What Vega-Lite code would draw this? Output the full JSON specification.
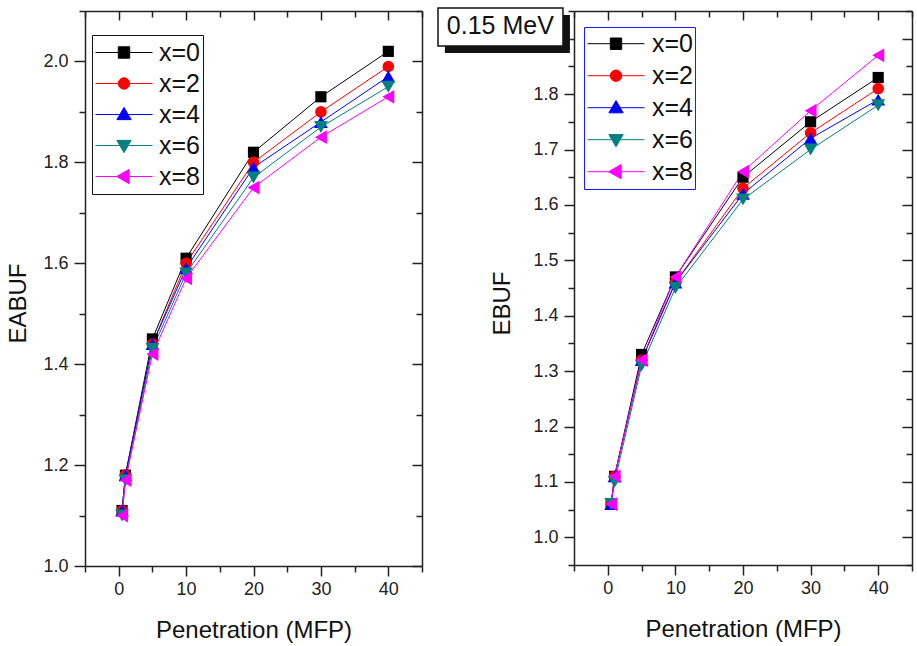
{
  "$schema": "https://vega.github.io/schema/vega-lite/v6.json",
  "background": "white",
  "padding": {"left": 6, "top": 7, "right": 4, "bottom": 2},
  "spacing": 14,
  "config": {
    "font": "Liberation Sans",
    "view": {"stroke": null},
    "axis": {
      "grid": false,
      "domainColor": "#222222",
      "domainWidth": 1.5,
      "tickColor": "#222222",
      "tickWidth": 1.5,
      "labelFont": "Liberation Sans",
      "labelFontSize": 18,
      "labelColor": "#222222",
      "labelFlush": false,
      "labelOverlap": false,
      "titleFont": "Liberation Sans",
      "titleFontSize": 24,
      "titleFontWeight": "normal",
      "titleColor": "#111111"
    }
  },
  "resolve": {
    "scale": {"color": "independent"},
    "legend": {"color": "independent"}
  },
  "hconcat": [
    {
      "width": 337,
      "height": 555,
      "data": {"values": [
        {"s": "x=0", "mfp": 0.5, "v": 1.11}, {"s": "x=0", "mfp": 1, "v": 1.18}, {"s": "x=0", "mfp": 5, "v": 1.45}, {"s": "x=0", "mfp": 10, "v": 1.61}, {"s": "x=0", "mfp": 20, "v": 1.82}, {"s": "x=0", "mfp": 30, "v": 1.93}, {"s": "x=0", "mfp": 40, "v": 2.02},
        {"s": "x=2", "mfp": 0.5, "v": 1.11}, {"s": "x=2", "mfp": 1, "v": 1.18}, {"s": "x=2", "mfp": 5, "v": 1.44}, {"s": "x=2", "mfp": 10, "v": 1.60}, {"s": "x=2", "mfp": 20, "v": 1.80}, {"s": "x=2", "mfp": 30, "v": 1.90}, {"s": "x=2", "mfp": 40, "v": 1.99},
        {"s": "x=4", "mfp": 0.5, "v": 1.11}, {"s": "x=4", "mfp": 1, "v": 1.18}, {"s": "x=4", "mfp": 5, "v": 1.44}, {"s": "x=4", "mfp": 10, "v": 1.59}, {"s": "x=4", "mfp": 20, "v": 1.79}, {"s": "x=4", "mfp": 30, "v": 1.88}, {"s": "x=4", "mfp": 40, "v": 1.97},
        {"s": "x=6", "mfp": 0.5, "v": 1.10}, {"s": "x=6", "mfp": 1, "v": 1.17}, {"s": "x=6", "mfp": 5, "v": 1.43}, {"s": "x=6", "mfp": 10, "v": 1.58}, {"s": "x=6", "mfp": 20, "v": 1.77}, {"s": "x=6", "mfp": 30, "v": 1.87}, {"s": "x=6", "mfp": 40, "v": 1.95},
        {"s": "x=8", "mfp": 0.5, "v": 1.10}, {"s": "x=8", "mfp": 1, "v": 1.17}, {"s": "x=8", "mfp": 5, "v": 1.42}, {"s": "x=8", "mfp": 10, "v": 1.57}, {"s": "x=8", "mfp": 20, "v": 1.75}, {"s": "x=8", "mfp": 30, "v": 1.85}, {"s": "x=8", "mfp": 40, "v": 1.93}
      ]},
      "resolve": {"axis": {"x": "independent", "y": "independent"}},
      "layer": [
        {
          "mark": {"type": "line", "strokeWidth": 1},
          "encoding": {
            "x": {"field": "mfp", "type": "quantitative", "scale": {"domain": [-5, 45], "nice": false, "zero": false},
                  "axis": {"orient": "bottom", "values": [0, 10, 20, 30, 40], "tickSize": 10, "labelPadding": 4, "title": "Penetration (MFP)", "titlePadding": 20}},
            "y": {"field": "v", "type": "quantitative", "scale": {"domain": [1.0, 2.1], "nice": false, "zero": false},
                  "axis": {"orient": "left", "values": [1.0, 1.2, 1.4, 1.6, 1.8, 2.0], "format": ".1f", "tickSize": 11, "labelPadding": 6, "title": "EABUF", "titlePadding": 12, "titleY": 292}},
            "color": {"field": "s", "type": "nominal",
                      "scale": {"domain": ["x=0", "x=2", "x=4", "x=6", "x=8"], "range": ["#000000", "#ff0000", "#0000ff", "#008080", "#ff00ff"]},
                      "legend": {"orient": "none", "legendX": 7, "legendY": 24, "title": null, "strokeColor": "#111111", "fillColor": "white", "padding": 2,
                                 "symbolSize": 3249, "clipHeight": 31, "rowPadding": 0, "symbolOffset": 1, "labelOffset": 6,
                                 "labelFont": "Liberation Sans", "labelFontSize": 25, "labelColor": "#111111",
                                 "encode": {
                                   "symbols": {"update": {
                                     "shape": {"signal": "datum.value === 'x=0' ? 'M-1,0H1M-0.2,-0.2H0.2V0.2H-0.2Z' : datum.value === 'x=2' ? 'M-1,0H1M-0.2,0A0.2,0.2,0,1,0,0.2,0A0.2,0.2,0,1,0,-0.2,0Z' : datum.value === 'x=4' ? 'M-1,0H1M0,-0.25L0.25,0.18L-0.25,0.18Z' : datum.value === 'x=6' ? 'M-1,0H1M0,0.25L0.25,-0.18L-0.25,-0.18Z' : 'M-1,0H1M-0.26,0L0.18,-0.25L0.18,0.25Z'"},
                                     "fill": {"signal": "datum.value === 'x=0' ? '#000000' : datum.value === 'x=2' ? '#ff0000' : datum.value === 'x=4' ? '#0000ff' : datum.value === 'x=6' ? '#008080' : '#ff00ff'"},
                                     "size": {"value": 3249},
                                     "strokeWidth": {"value": 1},
                                     "opacity": {"value": 1},
                                     "fillOpacity": {"value": 1},
                                     "strokeOpacity": {"value": 1}
                                   }}
                                 }}}
          }
        },
        {
          "transform": [{"filter": "datum.s === 'x=0'"}],
          "mark": {"type": "point", "filled": true, "opacity": 1, "shape": "square", "size": 125, "color": "#000000"},
          "encoding": {
            "x": {"field": "mfp", "type": "quantitative", "axis": {"orient": "top", "values": [0, 10, 20, 30, 40], "labels": false, "tickSize": -9, "title": null}},
            "y": {"field": "v", "type": "quantitative", "axis": {"orient": "right", "values": [1.0, 1.2, 1.4, 1.6, 1.8, 2.0], "labels": false, "tickSize": -10, "title": null}}
          }
        },
        {
          "transform": [{"filter": "datum.s === 'x=2'"}],
          "mark": {"type": "point", "filled": true, "opacity": 1, "shape": "circle", "size": 135, "color": "#ff0000"},
          "encoding": {
            "x": {"field": "mfp", "type": "quantitative", "axis": null},
            "y": {"field": "v", "type": "quantitative", "axis": null}
          }
        },
        {
          "transform": [{"filter": "datum.s === 'x=4'"}],
          "mark": {"type": "point", "filled": true, "opacity": 1, "shape": "triangle-up", "size": 190, "color": "#0000ff"},
          "encoding": {
            "x": {"field": "mfp", "type": "quantitative", "axis": null},
            "y": {"field": "v", "type": "quantitative", "axis": null}
          }
        },
        {
          "transform": [{"filter": "datum.s === 'x=6'"}],
          "mark": {"type": "point", "filled": true, "opacity": 1, "shape": "triangle-down", "size": 190, "color": "#008080"},
          "encoding": {
            "x": {"field": "mfp", "type": "quantitative", "axis": null},
            "y": {"field": "v", "type": "quantitative", "axis": null}
          }
        },
        {
          "transform": [{"filter": "datum.s === 'x=8'"}],
          "mark": {"type": "point", "filled": true, "opacity": 1, "shape": "triangle-left", "size": 190, "color": "#ff00ff"},
          "encoding": {
            "x": {"field": "mfp", "type": "quantitative", "axis": null},
            "y": {"field": "v", "type": "quantitative", "axis": null}
          }
        },
        {
          "mark": {"type": "point", "opacity": 0},
          "encoding": {
            "x": {"field": "mfp", "type": "quantitative", "axis": {"orient": "bottom", "values": [-5, 5, 15, 25, 35, 45], "labels": false, "domain": false, "tickSize": 6, "title": null}},
            "y": {"field": "v", "type": "quantitative", "axis": {"orient": "left", "values": [1.1, 1.3, 1.5, 1.7, 1.9, 2.1], "labels": false, "domain": false, "tickSize": 6, "title": null}}
          }
        },
        {
          "mark": {"type": "point", "opacity": 0},
          "encoding": {
            "x": {"field": "mfp", "type": "quantitative", "axis": {"orient": "top", "values": [-5, 5, 15, 25, 35, 45], "labels": false, "domain": false, "tickSize": -6, "title": null}},
            "y": {"field": "v", "type": "quantitative", "axis": {"orient": "right", "values": [1.1, 1.3, 1.5, 1.7, 1.9, 2.1], "labels": false, "domain": false, "tickSize": -6, "title": null}}
          }
        }
      ]
    },
    {
      "width": 338,
      "height": 554,
      "data": {"values": [
        {"s": "x=0", "mfp": 0.5, "v": 1.06}, {"s": "x=0", "mfp": 1, "v": 1.11}, {"s": "x=0", "mfp": 5, "v": 1.33}, {"s": "x=0", "mfp": 10, "v": 1.47}, {"s": "x=0", "mfp": 20, "v": 1.65}, {"s": "x=0", "mfp": 30, "v": 1.75}, {"s": "x=0", "mfp": 40, "v": 1.83},
        {"s": "x=2", "mfp": 0.5, "v": 1.06}, {"s": "x=2", "mfp": 1, "v": 1.11}, {"s": "x=2", "mfp": 5, "v": 1.32}, {"s": "x=2", "mfp": 10, "v": 1.46}, {"s": "x=2", "mfp": 20, "v": 1.63}, {"s": "x=2", "mfp": 30, "v": 1.73}, {"s": "x=2", "mfp": 40, "v": 1.81},
        {"s": "x=4", "mfp": 0.5, "v": 1.06}, {"s": "x=4", "mfp": 1, "v": 1.11}, {"s": "x=4", "mfp": 5, "v": 1.32}, {"s": "x=4", "mfp": 10, "v": 1.46}, {"s": "x=4", "mfp": 20, "v": 1.62}, {"s": "x=4", "mfp": 30, "v": 1.72}, {"s": "x=4", "mfp": 40, "v": 1.79},
        {"s": "x=6", "mfp": 0.5, "v": 1.06}, {"s": "x=6", "mfp": 1, "v": 1.10}, {"s": "x=6", "mfp": 5, "v": 1.31}, {"s": "x=6", "mfp": 10, "v": 1.45}, {"s": "x=6", "mfp": 20, "v": 1.61}, {"s": "x=6", "mfp": 30, "v": 1.70}, {"s": "x=6", "mfp": 40, "v": 1.78},
        {"s": "x=8", "mfp": 0.5, "v": 1.06}, {"s": "x=8", "mfp": 1, "v": 1.11}, {"s": "x=8", "mfp": 5, "v": 1.32}, {"s": "x=8", "mfp": 10, "v": 1.47}, {"s": "x=8", "mfp": 20, "v": 1.66}, {"s": "x=8", "mfp": 30, "v": 1.77}, {"s": "x=8", "mfp": 40, "v": 1.87}
      ]},
      "resolve": {"axis": {"x": "independent", "y": "independent"}},
      "layer": [
        {
          "mark": {"type": "line", "strokeWidth": 1},
          "encoding": {
            "x": {"field": "mfp", "type": "quantitative", "scale": {"domain": [-5, 45], "nice": false, "zero": false},
                  "axis": {"orient": "bottom", "values": [0, 10, 20, 30, 40], "tickSize": 10, "labelPadding": 4, "title": "Penetration (MFP)", "titlePadding": 20}},
            "y": {"field": "v", "type": "quantitative", "scale": {"domain": [0.95, 1.95], "nice": false, "zero": false},
                  "axis": {"orient": "left", "values": [1.0, 1.1, 1.2, 1.3, 1.4, 1.5, 1.6, 1.7, 1.8, 1.9], "format": ".1f", "labelExpr": "datum.value > 1.85 ? '' : datum.label", "tickSize": 10, "labelPadding": 6, "title": "EBUF", "titlePadding": 18, "titleY": 292}},
            "color": {"field": "s", "type": "nominal",
                      "scale": {"domain": ["x=0", "x=2", "x=4", "x=6", "x=8"], "range": ["#000000", "#ff0000", "#0000ff", "#008080", "#ff00ff"]},
                      "legend": {"orient": "none", "legendX": 10, "legendY": 16, "title": null, "strokeColor": "#1a1aff", "fillColor": "white", "padding": 1,
                                 "symbolSize": 3249, "clipHeight": 31.4, "rowPadding": 0, "symbolOffset": 2, "labelOffset": 7,
                                 "labelFont": "Liberation Sans", "labelFontSize": 25, "labelColor": "#111111",
                                 "encode": {
                                   "symbols": {"update": {
                                     "shape": {"signal": "datum.value === 'x=0' ? 'M-1,0H1M-0.2,-0.2H0.2V0.2H-0.2Z' : datum.value === 'x=2' ? 'M-1,0H1M-0.2,0A0.2,0.2,0,1,0,0.2,0A0.2,0.2,0,1,0,-0.2,0Z' : datum.value === 'x=4' ? 'M-1,0H1M0,-0.25L0.25,0.18L-0.25,0.18Z' : datum.value === 'x=6' ? 'M-1,0H1M0,0.25L0.25,-0.18L-0.25,-0.18Z' : 'M-1,0H1M-0.26,0L0.18,-0.25L0.18,0.25Z'"},
                                     "fill": {"signal": "datum.value === 'x=0' ? '#000000' : datum.value === 'x=2' ? '#ff0000' : datum.value === 'x=4' ? '#0000ff' : datum.value === 'x=6' ? '#008080' : '#ff00ff'"},
                                     "size": {"value": 3249},
                                     "strokeWidth": {"value": 1},
                                     "opacity": {"value": 1},
                                     "fillOpacity": {"value": 1},
                                     "strokeOpacity": {"value": 1}
                                   }}
                                 }}}
          }
        },
        {
          "transform": [{"filter": "datum.s === 'x=0'"}],
          "mark": {"type": "point", "filled": true, "opacity": 1, "shape": "square", "size": 125, "color": "#000000"},
          "encoding": {
            "x": {"field": "mfp", "type": "quantitative", "axis": {"orient": "top", "values": [0, 10, 20, 30, 40], "labels": false, "tickSize": -9, "title": null}},
            "y": {"field": "v", "type": "quantitative", "axis": {"orient": "right", "values": [1.0, 1.1, 1.2, 1.3, 1.4, 1.5, 1.6, 1.7, 1.8, 1.9], "labels": false, "tickSize": -10, "title": null}}
          }
        },
        {
          "transform": [{"filter": "datum.s === 'x=2'"}],
          "mark": {"type": "point", "filled": true, "opacity": 1, "shape": "circle", "size": 135, "color": "#ff0000"},
          "encoding": {
            "x": {"field": "mfp", "type": "quantitative", "axis": null},
            "y": {"field": "v", "type": "quantitative", "axis": null}
          }
        },
        {
          "transform": [{"filter": "datum.s === 'x=4'"}],
          "mark": {"type": "point", "filled": true, "opacity": 1, "shape": "triangle-up", "size": 190, "color": "#0000ff"},
          "encoding": {
            "x": {"field": "mfp", "type": "quantitative", "axis": null},
            "y": {"field": "v", "type": "quantitative", "axis": null}
          }
        },
        {
          "transform": [{"filter": "datum.s === 'x=6'"}],
          "mark": {"type": "point", "filled": true, "opacity": 1, "shape": "triangle-down", "size": 190, "color": "#008080"},
          "encoding": {
            "x": {"field": "mfp", "type": "quantitative", "axis": null},
            "y": {"field": "v", "type": "quantitative", "axis": null}
          }
        },
        {
          "transform": [{"filter": "datum.s === 'x=8'"}],
          "mark": {"type": "point", "filled": true, "opacity": 1, "shape": "triangle-left", "size": 190, "color": "#ff00ff"},
          "encoding": {
            "x": {"field": "mfp", "type": "quantitative", "axis": null},
            "y": {"field": "v", "type": "quantitative", "axis": null}
          }
        },
        {
          "mark": {"type": "point", "opacity": 0},
          "encoding": {
            "x": {"field": "mfp", "type": "quantitative", "axis": {"orient": "bottom", "values": [-5, 5, 15, 25, 35, 45], "labels": false, "domain": false, "tickSize": 6, "title": null}},
            "y": {"field": "v", "type": "quantitative", "axis": {"orient": "left", "values": [0.95, 1.05, 1.15, 1.25, 1.35, 1.45, 1.55, 1.65, 1.75, 1.85, 1.95], "labels": false, "domain": false, "tickSize": 6, "title": null}}
          }
        },
        {
          "mark": {"type": "point", "opacity": 0},
          "encoding": {
            "x": {"field": "mfp", "type": "quantitative", "axis": {"orient": "top", "values": [-5, 5, 15, 25, 35, 45], "labels": false, "domain": false, "tickSize": -6, "title": null}},
            "y": {"field": "v", "type": "quantitative", "axis": {"orient": "right", "values": [0.95, 1.05, 1.15, 1.25, 1.35, 1.45, 1.55, 1.65, 1.75, 1.85, 1.95], "labels": false, "domain": false, "tickSize": -6, "title": null}}
          }
        },
        {
          "data": {"values": [{"label": "0.15 MeV"}]},
          "mark": {"type": "rect", "color": "#111111"},
          "encoding": {
            "x": {"datum": -24.1, "type": "quantitative", "axis": null},
            "x2": {"datum": -5.6},
            "y": {"datum": 1.9428, "type": "quantitative", "axis": null},
            "y2": {"datum": 1.8742}
          }
        },
        {
          "data": {"values": [{"label": "0.15 MeV"}]},
          "mark": {"type": "rect", "fill": "white", "stroke": "#111111", "strokeWidth": 1.5},
          "encoding": {
            "x": {"datum": -25.12, "type": "quantitative", "axis": null},
            "x2": {"datum": -6.63},
            "y": {"datum": 1.9554, "type": "quantitative", "axis": null},
            "y2": {"datum": 1.8868}
          }
        },
        {
          "data": {"values": [{"label": "0.15 MeV"}]},
          "mark": {"type": "text", "font": "Liberation Sans", "fontSize": 25, "align": "center", "baseline": "alphabetic", "color": "#111111"},
          "encoding": {
            "x": {"datum": -15.9, "type": "quantitative", "axis": null},
            "y": {"datum": 1.9085, "type": "quantitative", "axis": null},
            "text": {"field": "label", "type": "nominal"}
          }
        }
      ]
    }
  ]
}
